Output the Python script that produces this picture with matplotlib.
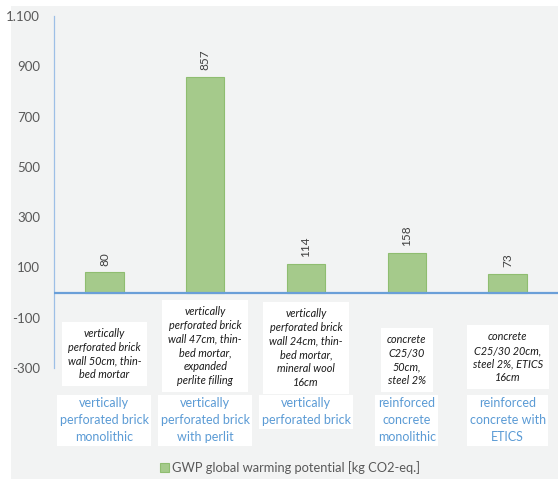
import matplotlib.pyplot as plt
from matplotlib.patches import Rectangle

# data
categories = [
    "vertically\nperforated brick\nmonolithic",
    "vertically\nperforated brick\nwith perlit",
    "vertically\nperforated brick",
    "reinforced\nconcrete\nmonolithic",
    "reinforced\nconcrete with\nETICS",
]
descriptions = [
    "vertically\nperforated brick\nwall 50cm, thin-\nbed mortar",
    "vertically\nperforated brick\nwall 47cm, thin-\nbed mortar,\nexpanded\nperlite filling",
    "vertically\nperforated brick\nwall 24cm, thin-\nbed mortar,\nmineral wool\n16cm",
    "concrete\nC25/30\n50cm,\nsteel 2%",
    "concrete\nC25/30 20cm,\nsteel 2%, ETICS\n16cm",
]
gwp = [80, 857, 114, 158, 73]
yticks = [-300, -100, 100, 300, 500, 700, 900, 1100]
ytick_labels = ["-300", "-100", "100", "300", "500", "700", "900", "1.100"]
legend_label = "GWP global warming potential [kg CO2-eq.]"

plt.rcParams['font.family'] = ['Lato', 'DejaVu Sans']

fig = plt.figure(figsize=(5.58, 4.79), dpi=100)
fig.patch.set_facecolor('white')
# grey chart area
fig.patches.append(Rectangle((11 / 558, 0), 1, 473 / 479, transform=fig.transFigure,
                             facecolor='#f2f3f3', edgecolor='none', zorder=-1))

ax = fig.add_axes([54 / 558, 111 / 479, 504 / 558, 352 / 479])
ax.set_facecolor('none')

x = range(len(gwp))
bars = ax.bar(x, gwp, width=0.38, color='#a5ca8b', edgecolor='#8fbd70', linewidth=0.8, zorder=2)
for xi, v in zip(x, gwp):
    ax.annotate(str(v), (xi, v), xytext=(0, 5), textcoords='offset points',
                rotation=90, ha='center', va='bottom', fontsize=8.5, color='#404040')

ax.axhline(0, color='#6a9fd8', lw=1.6, zorder=3)

ax.set_xlim(-0.5, 4.5)
ax.set_ylim(-300, 1100)
ax.set_yticks(yticks)
ax.set_yticklabels(ytick_labels)
ax.tick_params(axis='y', length=0, pad=10, labelsize=9.5, labelcolor='#595959')
ax.set_xticks([])
for s in ['top', 'right', 'bottom']:
    ax.spines[s].set_visible(False)
ax.spines['left'].set_color('#9dbfe6')
ax.spines['left'].set_linewidth(0.9)

# description boxes (vertical centre in axes fraction) and category boxes
desc_y = [0.040, 0.062, 0.057, 0.022, 0.030]
tr = ax.get_xaxis_transform()
for xi, d, dy in zip(x, descriptions, desc_y):
    ax.text(xi, dy, d, transform=tr, ha='center', va='center', fontsize=7.8,
            style='italic', color='#1a1a1a', linespacing=1.3, clip_on=False,
            bbox=dict(boxstyle='square,pad=0.55', facecolor='white', edgecolor='none'))
for xi, c in zip(x, categories):
    ax.text(xi, -0.083, c, transform=tr, ha='center', va='top', fontsize=9.0,
            color='#5b9bd5', linespacing=1.5, clip_on=False,
            bbox=dict(boxstyle='square,pad=0.2', facecolor='white', edgecolor='none'))

# legend
leg = fig.legend([bars], [legend_label], loc='center', bbox_to_anchor=(290 / 558, 1 - 468 / 479),
                 frameon=False, fontsize=9.3, handlelength=0.7, handleheight=0.7,
                 handletextpad=0.3, labelcolor='#595959')

fig.savefig('out.png', dpi=100)
